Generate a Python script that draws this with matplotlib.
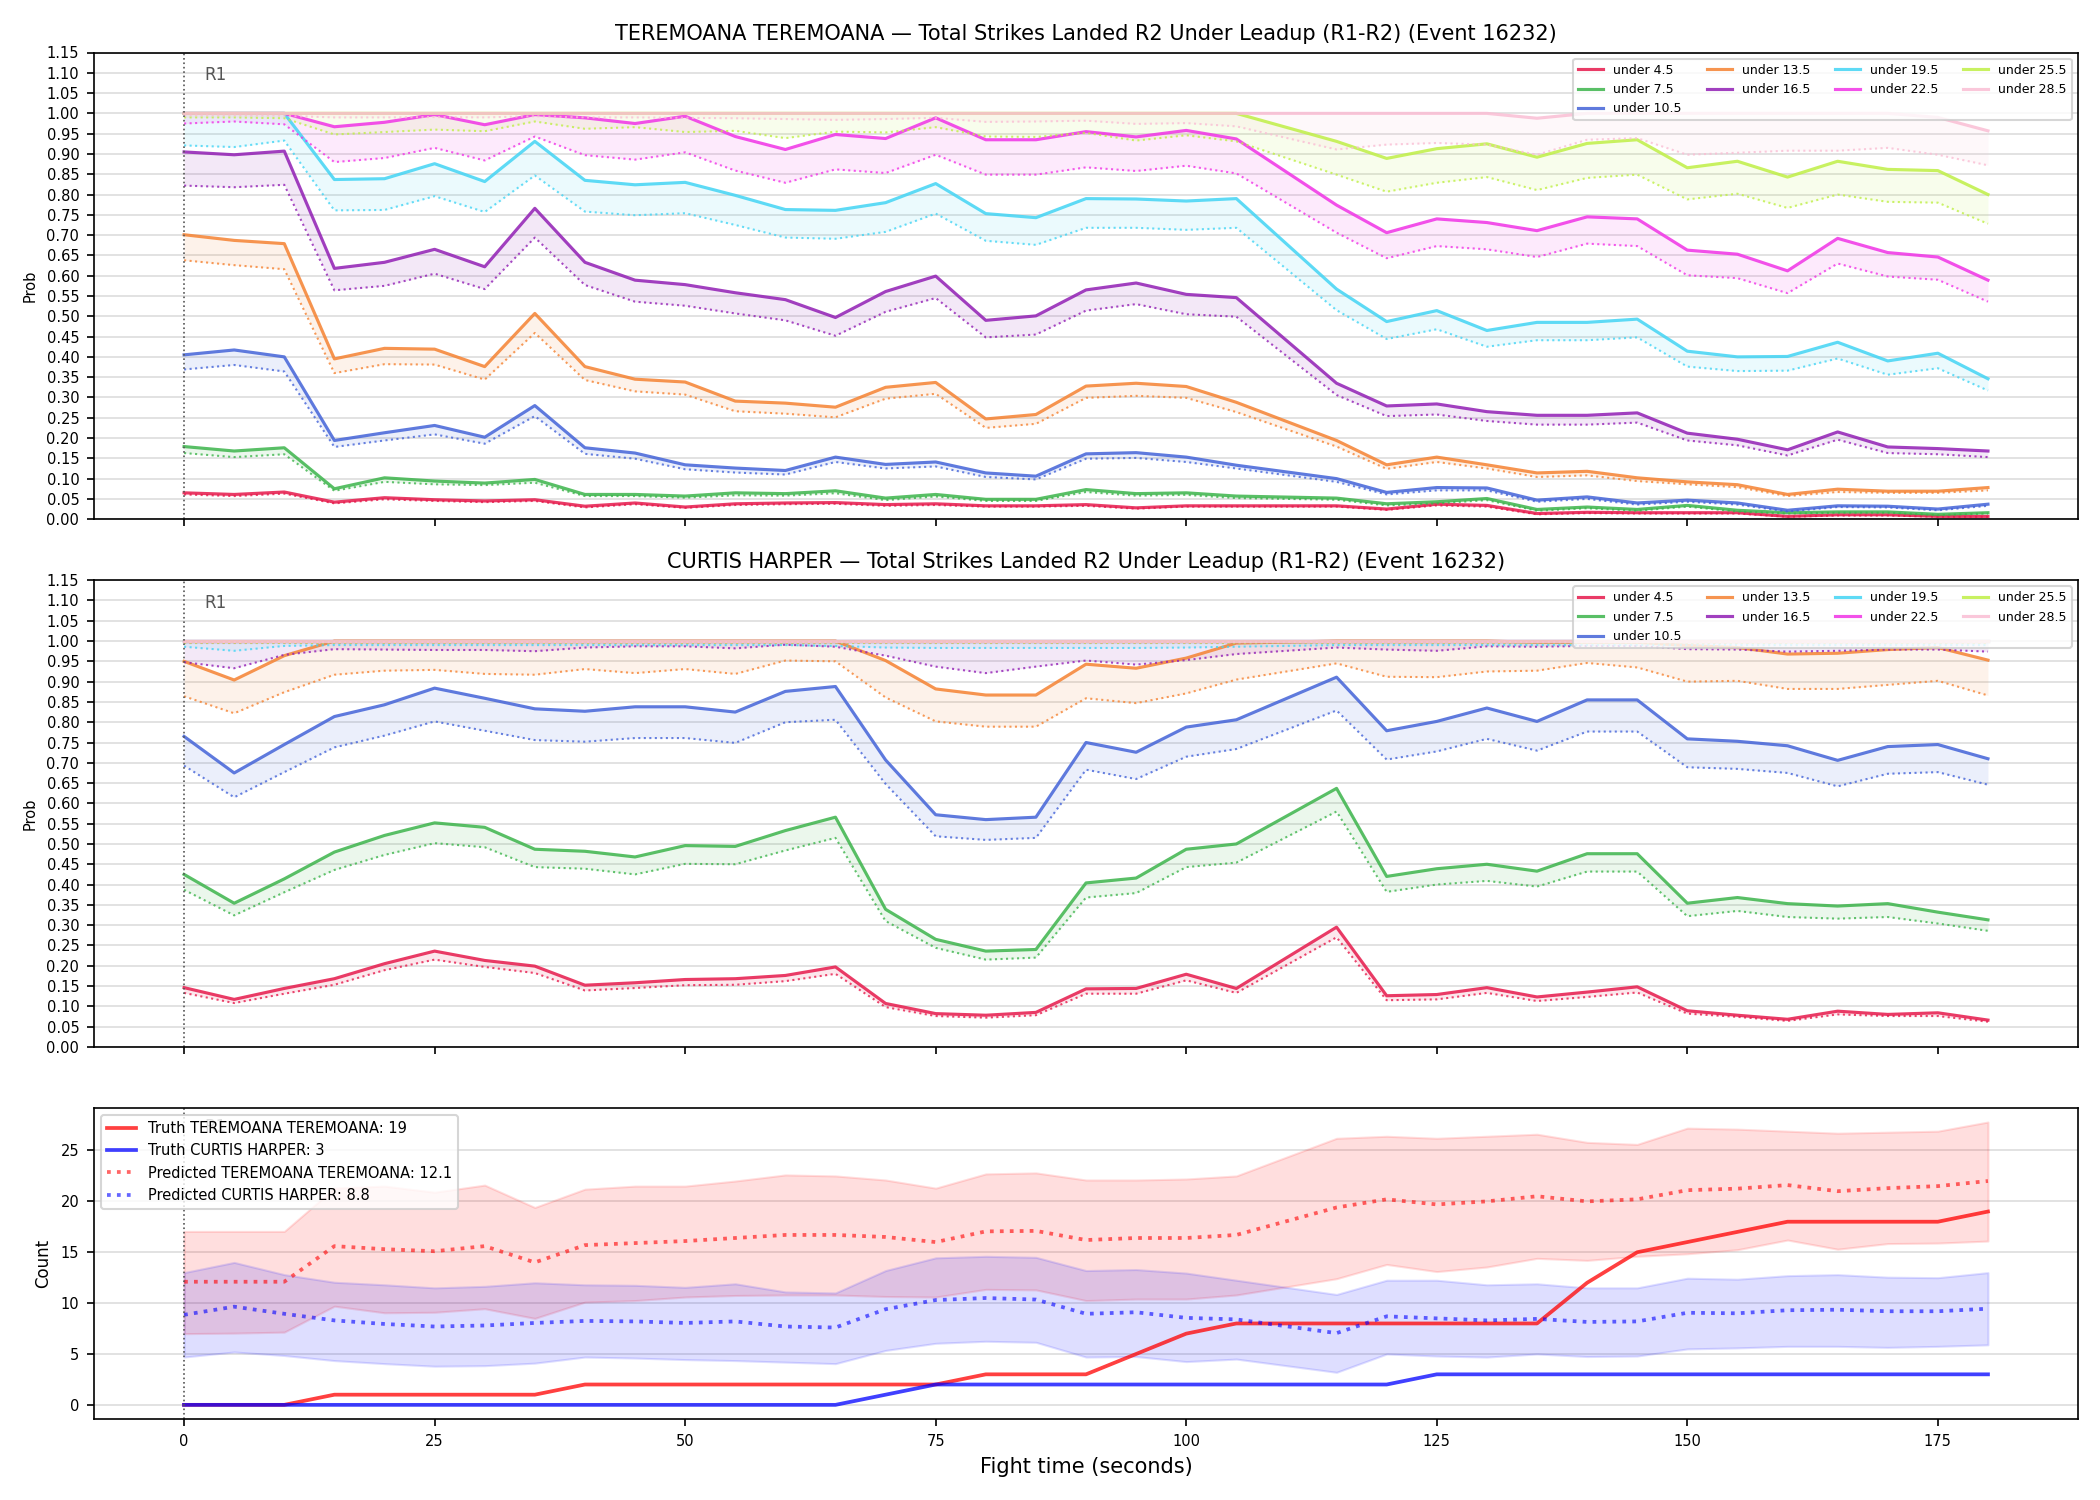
import matplotlib
matplotlib.use('Agg')
import matplotlib.pyplot as plt

# time grid (seconds) - there is no sample at 110 s
times = [0, 5, 10, 15, 20, 25, 30, 35, 40, 45, 50, 55, 60, 65, 70, 75, 80, 85, 90, 95, 100, 105,
         115, 120, 125, 130, 135, 140, 145, 150, 155, 160, 165, 170, 175, 180]

thresholds = ['under 4.5', 'under 7.5', 'under 10.5', 'under 13.5', 'under 16.5',
              'under 19.5', 'under 22.5', 'under 25.5', 'under 28.5']
colors = ['#e6194B', '#3cb44b', '#4363d8', '#f58231', '#911eb4',
          '#42d4f4', '#f032e6', '#bfef45', '#fabed4']

# ---- TEREMOANA TEREMOANA (solid line / dotted predicted) ----
ter_4_5 = [0.065, 0.061, 0.067, 0.042, 0.053, 0.048, 0.045, 0.048, 0.032, 0.040, 0.030, 0.038, 0.040, 0.041, 0.036, 0.038, 0.033, 0.033, 0.036, 0.028, 0.033, 0.033,
           0.033, 0.025, 0.037, 0.034, 0.014, 0.017, 0.016, 0.016, 0.016, 0.007, 0.011, 0.011, 0.007, 0.007]
ter_4_5_pred = [0.061, 0.057, 0.063, 0.039, 0.049, 0.045, 0.042, 0.045, 0.029, 0.037, 0.028, 0.035, 0.037, 0.038, 0.033, 0.035, 0.031, 0.031, 0.033, 0.026, 0.031, 0.031,
                0.031, 0.023, 0.034, 0.031, 0.012, 0.015, 0.014, 0.014, 0.014, 0.006, 0.009, 0.009, 0.006, 0.006]
ter_7_5 = [0.179, 0.168, 0.176, 0.075, 0.102, 0.094, 0.089, 0.098, 0.061, 0.061, 0.057, 0.065, 0.063, 0.070, 0.052, 0.061, 0.049, 0.049, 0.073, 0.063, 0.065, 0.057,
           0.052, 0.038, 0.043, 0.051, 0.024, 0.030, 0.024, 0.034, 0.022, 0.016, 0.018, 0.018, 0.012, 0.016]
ter_7_5_pred = [0.163, 0.153, 0.160, 0.070, 0.092, 0.086, 0.084, 0.090, 0.057, 0.057, 0.053, 0.059, 0.058, 0.064, 0.047, 0.056, 0.045, 0.045, 0.067, 0.058, 0.060, 0.052,
                0.048, 0.034, 0.039, 0.047, 0.021, 0.027, 0.021, 0.031, 0.019, 0.014, 0.016, 0.016, 0.010, 0.014]
ter_10_5 = [0.405, 0.417, 0.400, 0.194, 0.213, 0.231, 0.202, 0.280, 0.176, 0.163, 0.134, 0.126, 0.120, 0.153, 0.135, 0.141, 0.114, 0.106, 0.161, 0.164, 0.153, 0.133,
            0.100, 0.066, 0.078, 0.077, 0.047, 0.055, 0.040, 0.047, 0.040, 0.022, 0.033, 0.032, 0.025, 0.037]
ter_10_5_pred = [0.369, 0.380, 0.364, 0.178, 0.194, 0.209, 0.186, 0.254, 0.161, 0.149, 0.123, 0.115, 0.110, 0.141, 0.125, 0.130, 0.104, 0.098, 0.149, 0.151, 0.141, 0.125,
                 0.092, 0.061, 0.071, 0.071, 0.043, 0.050, 0.036, 0.043, 0.036, 0.019, 0.030, 0.029, 0.022, 0.033]
ter_13_5 = [0.701, 0.687, 0.679, 0.395, 0.421, 0.419, 0.376, 0.507, 0.376, 0.345, 0.338, 0.291, 0.286, 0.276, 0.325, 0.337, 0.247, 0.258, 0.328, 0.335, 0.327, 0.288,
            0.194, 0.134, 0.153, 0.134, 0.114, 0.118, 0.102, 0.092, 0.085, 0.061, 0.074, 0.069, 0.069, 0.078]
ter_13_5_pred = [0.638, 0.626, 0.616, 0.360, 0.382, 0.381, 0.344, 0.459, 0.343, 0.315, 0.307, 0.266, 0.260, 0.251, 0.297, 0.309, 0.225, 0.235, 0.299, 0.304, 0.299, 0.264,
                 0.179, 0.124, 0.141, 0.125, 0.104, 0.108, 0.094, 0.086, 0.079, 0.057, 0.067, 0.065, 0.065, 0.071]
ter_16_5 = [0.905, 0.898, 0.907, 0.618, 0.633, 0.665, 0.622, 0.766, 0.633, 0.589, 0.578, 0.558, 0.541, 0.497, 0.561, 0.599, 0.490, 0.501, 0.565, 0.582, 0.554, 0.546,
            0.335, 0.279, 0.284, 0.265, 0.256, 0.256, 0.262, 0.212, 0.197, 0.171, 0.215, 0.178, 0.174, 0.168]
ter_16_5_pred = [0.822, 0.818, 0.824, 0.564, 0.575, 0.605, 0.567, 0.694, 0.577, 0.536, 0.526, 0.507, 0.490, 0.452, 0.511, 0.545, 0.448, 0.455, 0.514, 0.530, 0.505, 0.499,
                 0.306, 0.254, 0.258, 0.242, 0.233, 0.233, 0.238, 0.194, 0.182, 0.157, 0.196, 0.163, 0.160, 0.153]
ter_19_5 = [1.0, 1.0, 1.0, 0.837, 0.839, 0.876, 0.832, 0.931, 0.835, 0.824, 0.830, 0.798, 0.763, 0.761, 0.780, 0.827, 0.753, 0.743, 0.790, 0.789, 0.784, 0.790,
            0.567, 0.487, 0.514, 0.465, 0.485, 0.485, 0.493, 0.414, 0.400, 0.401, 0.436, 0.390, 0.409, 0.346]
ter_19_5_pred = [0.921, 0.917, 0.933, 0.761, 0.762, 0.796, 0.757, 0.847, 0.758, 0.749, 0.754, 0.725, 0.694, 0.691, 0.708, 0.753, 0.686, 0.676, 0.718, 0.718, 0.713, 0.718,
                 0.515, 0.444, 0.468, 0.425, 0.441, 0.441, 0.448, 0.376, 0.365, 0.366, 0.396, 0.356, 0.372, 0.317]
ter_22_5 = [1.0, 1.0, 1.0, 0.967, 0.978, 0.997, 0.972, 0.997, 0.989, 0.975, 0.993, 0.943, 0.911, 0.948, 0.938, 0.989, 0.935, 0.935, 0.955, 0.942, 0.958, 0.937,
            0.774, 0.706, 0.740, 0.731, 0.711, 0.745, 0.740, 0.663, 0.653, 0.612, 0.692, 0.657, 0.646, 0.589]
ter_22_5_pred = [0.975, 0.980, 0.973, 0.880, 0.890, 0.915, 0.884, 0.943, 0.897, 0.886, 0.904, 0.859, 0.829, 0.862, 0.853, 0.898, 0.849, 0.849, 0.867, 0.858, 0.871, 0.852,
                 0.706, 0.643, 0.673, 0.665, 0.646, 0.679, 0.673, 0.601, 0.594, 0.557, 0.630, 0.598, 0.590, 0.536]
ter_25_5 = [1.0, 1.0, 1.0, 1.0, 1.0, 1.0, 1.0, 1.0, 1.0, 1.0, 1.0, 1.0, 1.0, 1.0, 1.0, 1.0, 1.0, 1.0, 1.0, 1.0, 1.0, 1.0,
            0.931, 0.889, 0.913, 0.925, 0.892, 0.926, 0.935, 0.866, 0.882, 0.843, 0.882, 0.862, 0.859, 0.800]
ter_25_5_pred = [0.990, 0.990, 0.988, 0.948, 0.954, 0.960, 0.956, 0.980, 0.962, 0.966, 0.954, 0.957, 0.939, 0.955, 0.953, 0.966, 0.943, 0.942, 0.952, 0.933, 0.946, 0.931,
                 0.849, 0.807, 0.829, 0.843, 0.811, 0.841, 0.849, 0.788, 0.802, 0.767, 0.800, 0.782, 0.780, 0.728]
ter_28_5 = [1.0, 1.0, 1.0, 1.0, 1.0, 1.0, 1.0, 1.0, 1.0, 1.0, 1.0, 1.0, 1.0, 1.0, 1.0, 1.0, 1.0, 1.0, 1.0, 1.0, 1.0, 1.0,
            1.0, 1.0, 1.0, 1.0, 0.988, 1.0, 1.0, 1.0, 1.0, 1.0, 1.0, 1.0, 0.990, 0.957]
ter_28_5_pred = [0.995, 0.995, 0.994, 0.990, 0.990, 0.991, 0.990, 0.993, 0.990, 0.990, 0.989, 0.988, 0.986, 0.984, 0.986, 0.989, 0.979, 0.980, 0.982, 0.974, 0.976, 0.968,
                 0.911, 0.923, 0.927, 0.923, 0.898, 0.935, 0.939, 0.898, 0.903, 0.908, 0.908, 0.915, 0.898, 0.872]

# ---- CURTIS HARPER ----
cur_4_5 = [0.146, 0.117, 0.144, 0.168, 0.205, 0.236, 0.213, 0.199, 0.152, 0.158, 0.166, 0.168, 0.176, 0.197, 0.107, 0.082, 0.078, 0.085, 0.143, 0.144, 0.179, 0.144,
           0.295, 0.126, 0.129, 0.146, 0.123, 0.135, 0.148, 0.089, 0.078, 0.068, 0.088, 0.080, 0.084, 0.066]
cur_4_5_pred = [0.133, 0.108, 0.131, 0.153, 0.189, 0.215, 0.197, 0.182, 0.139, 0.145, 0.152, 0.153, 0.162, 0.180, 0.098, 0.076, 0.072, 0.078, 0.131, 0.131, 0.164, 0.133,
                0.270, 0.115, 0.117, 0.133, 0.113, 0.123, 0.134, 0.082, 0.074, 0.064, 0.080, 0.076, 0.076, 0.062]
cur_7_5 = [0.425, 0.354, 0.414, 0.480, 0.521, 0.552, 0.541, 0.487, 0.482, 0.468, 0.496, 0.494, 0.533, 0.566, 0.339, 0.265, 0.236, 0.240, 0.404, 0.416, 0.487, 0.500,
           0.637, 0.420, 0.439, 0.450, 0.433, 0.476, 0.476, 0.354, 0.368, 0.353, 0.347, 0.353, 0.332, 0.313]
cur_7_5_pred = [0.387, 0.324, 0.381, 0.436, 0.473, 0.502, 0.492, 0.443, 0.439, 0.425, 0.451, 0.450, 0.484, 0.515, 0.310, 0.244, 0.215, 0.220, 0.368, 0.379, 0.443, 0.454,
                0.580, 0.382, 0.400, 0.409, 0.395, 0.432, 0.432, 0.322, 0.335, 0.320, 0.316, 0.320, 0.304, 0.286]
cur_10_5 = [0.765, 0.675, 0.745, 0.814, 0.843, 0.884, 0.859, 0.833, 0.827, 0.838, 0.838, 0.825, 0.876, 0.888, 0.707, 0.572, 0.560, 0.566, 0.750, 0.726, 0.788, 0.806,
            0.911, 0.779, 0.802, 0.835, 0.802, 0.855, 0.855, 0.759, 0.753, 0.742, 0.706, 0.740, 0.745, 0.710]
cur_10_5_pred = [0.693, 0.615, 0.677, 0.738, 0.767, 0.802, 0.779, 0.756, 0.752, 0.761, 0.761, 0.749, 0.800, 0.806, 0.648, 0.519, 0.510, 0.515, 0.683, 0.660, 0.715, 0.734,
                 0.829, 0.708, 0.728, 0.759, 0.730, 0.777, 0.777, 0.689, 0.685, 0.675, 0.642, 0.673, 0.677, 0.646]
cur_13_5 = [0.950, 0.904, 0.964, 1.0, 1.0, 1.0, 1.0, 1.0, 1.0, 1.0, 1.0, 1.0, 1.0, 1.0, 0.952, 0.882, 0.867, 0.867, 0.943, 0.933, 0.958, 0.995,
            1.0, 1.0, 1.0, 1.0, 0.997, 0.997, 0.997, 0.989, 0.984, 0.968, 0.970, 0.979, 0.984, 0.953]
cur_13_5_pred = [0.864, 0.822, 0.874, 0.917, 0.927, 0.929, 0.919, 0.917, 0.931, 0.921, 0.931, 0.919, 0.952, 0.950, 0.861, 0.802, 0.789, 0.789, 0.859, 0.847, 0.871, 0.905,
                 0.945, 0.912, 0.911, 0.925, 0.927, 0.946, 0.935, 0.900, 0.902, 0.882, 0.882, 0.892, 0.902, 0.866]
cur_16_5 = [1.0] * 36
cur_16_5_pred = [0.948, 0.933, 0.966, 0.980, 0.979, 0.978, 0.978, 0.975, 0.984, 0.987, 0.987, 0.982, 0.991, 0.986, 0.964, 0.937, 0.921, 0.937, 0.952, 0.942, 0.953, 0.968,
                 0.984, 0.979, 0.976, 0.987, 0.986, 0.988, 0.988, 0.980, 0.979, 0.974, 0.976, 0.979, 0.979, 0.974]
cur_19_5 = [1.0] * 36
cur_19_5_pred = [0.986, 0.976, 0.988, 0.990, 0.990, 0.990, 0.990, 0.990, 0.990, 0.990, 0.990, 0.990, 0.990, 0.988, 0.984, 0.983, 0.983, 0.983, 0.983, 0.983, 0.984, 0.986,
                 0.990, 0.990, 0.990, 0.990, 0.990, 0.990, 0.990, 0.990, 0.990, 0.990, 0.990, 0.990, 0.990, 0.990]
cur_22_5 = [1.0] * 36
cur_22_5_pred = [0.995] * 36
cur_25_5 = [1.0] * 36
cur_25_5_pred = [0.996] * 36
cur_28_5 = [1.0] * 36
cur_28_5_pred = [0.997] * 36

# ---- counts panel ----
truth_ter = [0, 0, 0, 1, 1, 1, 1, 1, 2, 2, 2, 2, 2, 2, 2, 2, 3, 3, 3, 5, 7, 8,
             8, 8, 8, 8, 8, 12, 15, 16, 17, 18, 18, 18, 18, 19]
truth_cur = [0, 0, 0, 0, 0, 0, 0, 0, 0, 0, 0, 0, 0, 0, 1, 2, 2, 2, 2, 2, 2, 2,
             2, 2, 3, 3, 3, 3, 3, 3, 3, 3, 3, 3, 3, 3]
pred_ter = [12.1, 12.1, 12.1, 15.6, 15.3, 15.1, 15.6, 14.0, 15.7, 15.9, 16.1, 16.4, 16.7, 16.7, 16.5, 16.0, 17.05, 17.1, 16.2, 16.4, 16.4, 16.7,
            19.4, 20.2, 19.7, 20.0, 20.5, 20.0, 20.2, 21.1, 21.25, 21.6, 21.0, 21.3, 21.5, 22.0]
pred_ter_hi = [17.05, 17.05, 17.05, 21.3, 21.5, 20.9, 21.6, 19.4, 21.2, 21.5, 21.5, 22.0, 22.6, 22.5, 22.1, 21.3, 22.7, 22.8, 22.1, 22.1, 22.2, 22.5,
               26.2, 26.4, 26.2, 26.4, 26.6, 25.8, 25.6, 27.2, 27.1, 26.9, 26.7, 26.8, 26.9, 27.8]
pred_ter_lo = [7.0, 7.05, 7.15, 9.7, 9.05, 9.1, 9.45, 8.5, 10.1, 10.25, 10.6, 10.75, 10.8, 10.8, 10.65, 10.6, 11.35, 11.3, 10.25, 10.4, 10.4, 10.8,
               12.4, 13.8, 13.1, 13.55, 14.4, 14.2, 14.6, 14.85, 15.25, 16.2, 15.3, 15.85, 15.9, 16.1]
pred_cur = [8.85, 9.65, 8.95, 8.3, 7.95, 7.7, 7.8, 8.05, 8.25, 8.2, 8.05, 8.2, 7.7, 7.6, 9.4, 10.3, 10.5, 10.35, 8.95, 9.1, 8.55, 8.4,
            7.05, 8.7, 8.5, 8.3, 8.45, 8.15, 8.2, 9.05, 9.0, 9.3, 9.35, 9.2, 9.2, 9.45]
pred_cur_hi = [13.0, 14.0, 12.8, 12.05, 11.8, 11.5, 11.65, 12.0, 11.8, 11.75, 11.55, 11.9, 11.1, 11.0, 13.2, 14.45, 14.6, 14.5, 13.2, 13.3, 12.95, 12.25,
               10.85, 12.25, 12.25, 11.8, 11.9, 11.5, 11.5, 12.45, 12.35, 12.7, 12.8, 12.55, 12.5, 13.0]
pred_cur_lo = [4.7, 5.2, 4.85, 4.35, 4.05, 3.8, 3.85, 4.1, 4.7, 4.6, 4.45, 4.35, 4.2, 4.05, 5.35, 6.05, 6.25, 6.15, 4.7, 4.75, 4.25, 4.5,
               3.2, 5.0, 4.8, 4.7, 5.0, 4.75, 4.8, 5.5, 5.6, 5.75, 5.75, 5.65, 5.75, 5.9]

ter_lines = [ter_4_5, ter_7_5, ter_10_5, ter_13_5, ter_16_5, ter_19_5, ter_22_5, ter_25_5, ter_28_5]
ter_preds = [ter_4_5_pred, ter_7_5_pred, ter_10_5_pred, ter_13_5_pred, ter_16_5_pred,
             ter_19_5_pred, ter_22_5_pred, ter_25_5_pred, ter_28_5_pred]
cur_lines = [cur_4_5, cur_7_5, cur_10_5, cur_13_5, cur_16_5, cur_19_5, cur_22_5, cur_25_5, cur_28_5]
cur_preds = [cur_4_5_pred, cur_7_5_pred, cur_10_5_pred, cur_13_5_pred, cur_16_5_pred,
             cur_19_5_pred, cur_22_5_pred, cur_25_5_pred, cur_28_5_pred]

fig = plt.figure(figsize=(14, 10), dpi=150)
gs = fig.add_gridspec(3, 1, height_ratios=[3, 3, 2], left=0.0447, right=0.9896,
                      top=0.965, bottom=0.054, hspace=0.147)
ax1 = fig.add_subplot(gs[0])
ax2 = fig.add_subplot(gs[1], sharex=ax1)
ax3 = fig.add_subplot(gs[2], sharex=ax1)


def prob_panel(ax, lines, preds, title):
    for name, c, y, p in zip(thresholds, colors, lines, preds):
        ax.fill_between(times, y, p, color=c, alpha=0.1, linewidth=0)
        ax.plot(times, y, color=c, lw=1.5, alpha=0.85, label=name)
        ax.plot(times, p, color=c, lw=1.0, ls=':', alpha=0.8)
    ax.axvline(0, color='#555555', ls=':', lw=0.8)
    ax.text(2, 1.095, 'R1', color='#555555', fontsize=8, va='center')
    ax.set_ylim(0, 1.15)
    ax.set_yticks([i * 0.05 for i in range(24)])
    ax.set_yticklabels([f'{i * 0.05:.2f}' for i in range(24)])
    ax.set_ylabel('Prob', fontsize=7)
    ax.tick_params(labelsize=7)
    ax.tick_params(axis='x', labelbottom=False)
    ax.grid(axis='y', color='#dddddd', lw=0.8)
    ax.set_axisbelow(True)
    ax.set_title(title, fontsize=10)
    ax.legend(loc='upper right', ncol=4, fontsize=6, framealpha=0.8)


prob_panel(ax1, ter_lines, ter_preds,
           'TEREMOANA TEREMOANA — Total Strikes Landed R2 Under Leadup (R1-R2) (Event 16232)')
prob_panel(ax2, cur_lines, cur_preds,
           'CURTIS HARPER — Total Strikes Landed R2 Under Leadup (R1-R2) (Event 16232)')

# counts panel
ax3.fill_between(times, pred_ter_lo, pred_ter_hi, color='red', alpha=0.13)
ax3.fill_between(times, pred_cur_lo, pred_cur_hi, color='blue', alpha=0.13)
ax3.plot(times, truth_ter, color='red', lw=1.8, alpha=0.75,
         label=f'Truth TEREMOANA TEREMOANA: {truth_ter[-1]}')
ax3.plot(times, truth_cur, color='blue', lw=1.8, alpha=0.75,
         label=f'Truth CURTIS HARPER: {truth_cur[-1]}')
ax3.plot(times, pred_ter, color='red', lw=1.8, ls=':', alpha=0.6,
         label=f'Predicted TEREMOANA TEREMOANA: {pred_ter[0]:.1f}')
ax3.plot(times, pred_cur, color='blue', lw=1.8, ls=':', alpha=0.6,
         label=f'Predicted CURTIS HARPER: {pred_cur[0]:.1f}')
ax3.axvline(0, color='#555555', ls=':', lw=0.8)
ax3.set_ylabel('Count', fontsize=8)
ax3.set_xlabel('Fight time (seconds)', fontsize=10)
ax3.tick_params(labelsize=7)
ax3.grid(axis='y', color='#dddddd', lw=0.8)
ax3.set_axisbelow(True)
ax3.legend(loc='upper left', fontsize=7, framealpha=0.8)
ax3.set_xticks([0, 25, 50, 75, 100, 125, 150, 175])
ymin, ymax = ax3.get_ylim()
ax3.text(2, ymax - 0.06 * (ymax - ymin), 'R1', color='#555555', fontsize=8, va='center', zorder=0)

fig.savefig('out.png', dpi=150)
